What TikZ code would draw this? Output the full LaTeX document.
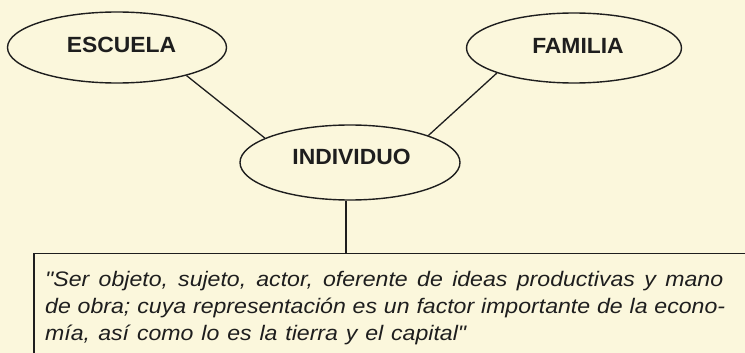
\documentclass[tikz,border=0pt]{standalone}
\usepackage{fontspec}
\setmainfont{Liberation Sans}
\newfontfamily\condfont[FakeStretch=1.04]{Liberation Sans}
\newfontfamily\quotefont[FakeStretch=1.10]{Liberation Sans}
\usetikzlibrary{shapes.geometric}
\definecolor{paper}{HTML}{FBF7DC}
\definecolor{ink}{HTML}{1E1E1E}
\begin{document}
\begin{tikzpicture}[x=1pt,y=-1pt,
  oval/.style={ellipse, draw=ink, line width=1.4pt, inner sep=0pt, text=ink,
    font=\condfont\bfseries\fontsize{22}{26}\selectfont},
  link/.style={draw=ink, line width=1.3pt},
  quotebox/.style={draw=ink, line width=1.7pt, rectangle, inner sep=0pt, anchor=north west},
  quotetext/.style={anchor=north west, align=left, inner sep=0pt, text=ink,
    font=\quotefont\itshape\fontsize{21}{27}\selectfont}]
\useasboundingbox (0,0) rectangle (745,353);
\fill[paper] (0,0) rectangle (745,353);
\clip (0,0) rectangle (745,353);
\node[oval, minimum width=219pt, minimum height=71pt, text depth=6pt] (esc) at (117,47.5) {\hspace*{9pt}ESCUELA};
\node[oval, minimum width=215pt, minimum height=70pt, text depth=4pt] (fam) at (574,48) {\hspace*{8pt}FAMILIA};
\node[oval, minimum width=220pt, minimum height=75pt, text depth=11pt] (ind) at (350,162.5) {\hspace*{3pt}INDIVIDUO};
\node[quotebox, minimum width=740pt, minimum height=130pt] (box) at (33,252.7) {};
\node[quotetext] (quote) at (45,271.3) {\hbox to 678pt{"Ser objeto, sujeto, actor, oferente de ideas productivas y mano}\\
\hbox to 680pt{de obra; cuya representación es un factor importante de la econo-}\\
\hbox to 421pt{mía, así como lo es la tierra y el capital"}};
\draw[link] (esc.-22) -- (ind.164);
\draw[link] (fam.-162.5) -- (ind.19.5);
\draw[link] ([xshift=-4pt]ind.south) -- ([xshift=-4pt]ind.south |- box.north);
\end{tikzpicture}
\end{document}
